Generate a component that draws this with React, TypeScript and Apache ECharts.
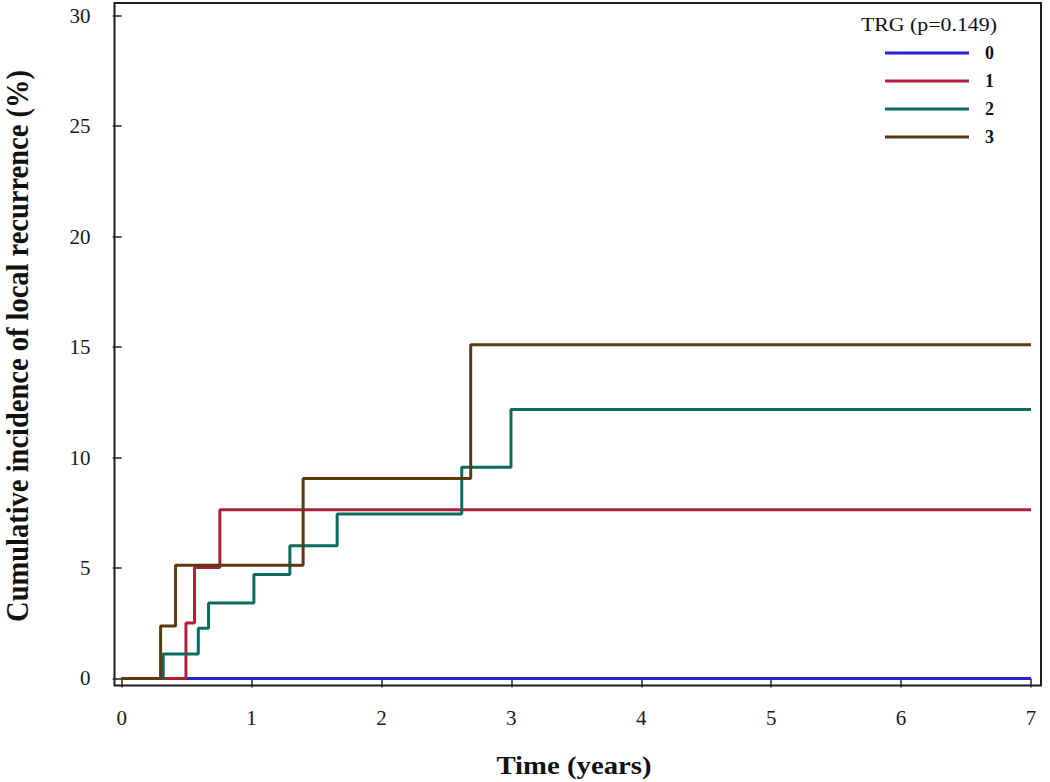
import React, { useEffect, useRef } from "react";
import * as echarts from "echarts";

const xTicks = [0, 1, 2, 3, 4, 5, 6, 7];
const yTicks = [0, 5, 10, 15, 20, 25, 30];

const groupNames = ["0", "1", "2", "3"];
const groupColors = ["#2323cf", "#b21d3a", "#0c6b60", "#5a3a10"];

// [time (years), cumulative incidence (%)]
const trg0: number[][] = [
  [0, 0],
  [7, 0],
];
const trg1: number[][] = [
  [0, 0],
  [0.495, 2.51],
  [0.561, 5.02],
  [0.756, 7.64],
  [7, 7.64],
];
const trg2: number[][] = [
  [0, 0],
  [0.32, 1.11],
  [0.59, 2.27],
  [0.669, 3.42],
  [1.018, 4.71],
  [1.295, 6.01],
  [1.659, 7.45],
  [2.618, 9.56],
  [2.997, 12.17],
  [7, 12.17],
];
const trg3: number[][] = [
  [0, 0],
  [0.3, 2.38],
  [0.415, 5.12],
  [1.397, 9.05],
  [2.687, 15.1],
  [7, 15.1],
];
const seriesData = [trg0, trg1, trg2, trg3];

const xTitle = "Time (years)";
const yTitle = "Cumulative incidence of local recurrence (%)";
const legendTitle = "TRG (p=0.149)";

const SERIF = "'Liberation Serif', 'Times New Roman', serif";

export default function App() {
  const ref = useRef<HTMLDivElement>(null);
  useEffect(() => {
    if (!ref.current) return;
    const chart = echarts.init(ref.current, null, { renderer: "svg" });
    chart.setOption({
      animation: false,
      backgroundColor: "#ffffff",
      grid: {
        left: 114.5,
        right: 9,
        top: 3,
        bottom: 96.5,
        show: true,
        borderColor: "#1c1c1c",
        borderWidth: 2,
        backgroundColor: "transparent",
      },
      xAxis: {
        type: "value",
        min: -0.055,
        max: 7.077,
        axisLine: { show: false },
        splitLine: { show: false },
        axisTick: {
          show: true,
          customValues: xTicks,
          length: 9,
          lineStyle: { color: "#222", width: 1.5 },
        },
        axisLabel: {
          customValues: xTicks,
          margin: 22,
          fontFamily: SERIF,
          fontSize: 21,
          color: "#1a1a1a",
        },
      },
      yAxis: {
        type: "value",
        min: -0.317,
        max: 30.57,
        axisLine: { show: false },
        splitLine: { show: false },
        axisTick: {
          show: true,
          customValues: yTicks,
          length: 9,
          lineStyle: { color: "#222", width: 1.5 },
        },
        axisLabel: {
          customValues: yTicks,
          margin: 24,
          fontFamily: SERIF,
          fontSize: 21,
          color: "#1a1a1a",
        },
      },
      legend: {
        orient: "vertical",
        left: 885,
        top: 44,
        padding: 0,
        itemWidth: 84,
        itemHeight: 3,
        itemGap: 10,
        icon: "rect",
        data: groupNames,
        textStyle: {
          fontFamily: SERIF,
          fontWeight: "bold",
          fontSize: 18,
          lineHeight: 18,
          color: "#111",
          padding: [0, 0, 0, 11],
        },
      },
      graphic: [
        {
          type: "text",
          x: 997,
          y: 25,
          scaleX: 1.15,
          style: {
            text: legendTitle,
            fontFamily: SERIF,
            fontSize: 19,
            fill: "#111",
            textAlign: "right",
            textVerticalAlign: "middle",
          },
        },
        {
          type: "text",
          x: 574,
          y: 766,
          scaleX: 1.15,
          style: {
            text: xTitle,
            fontFamily: SERIF,
            fontWeight: "bold",
            fontSize: 25,
            fill: "#111",
            textAlign: "center",
            textVerticalAlign: "middle",
          },
        },
        {
          type: "text",
          x: 17,
          y: 346,
          rotation: Math.PI / 2,
          scaleY: 1.1,
          style: {
            text: yTitle,
            fontFamily: SERIF,
            fontWeight: "bold",
            fontSize: 28.5,
            fill: "#111",
            textAlign: "center",
            textVerticalAlign: "middle",
          },
        },
      ],
      series: seriesData.map((d, i) => ({
        name: groupNames[i],
        type: "line",
        step: "end",
        data: d,
        showSymbol: false,
        symbol: "none",
        color: groupColors[i],
        lineStyle: { color: groupColors[i], width: 3 },
        itemStyle: { color: groupColors[i] },
        emphasis: { disabled: true },
      })),
    });
    return () => chart.dispose();
  }, []);
  return (
    <div
      ref={ref}
      style={{ position: "absolute", left: 0, top: 0, width: 1050, height: 782 }}
    />
  );
}
